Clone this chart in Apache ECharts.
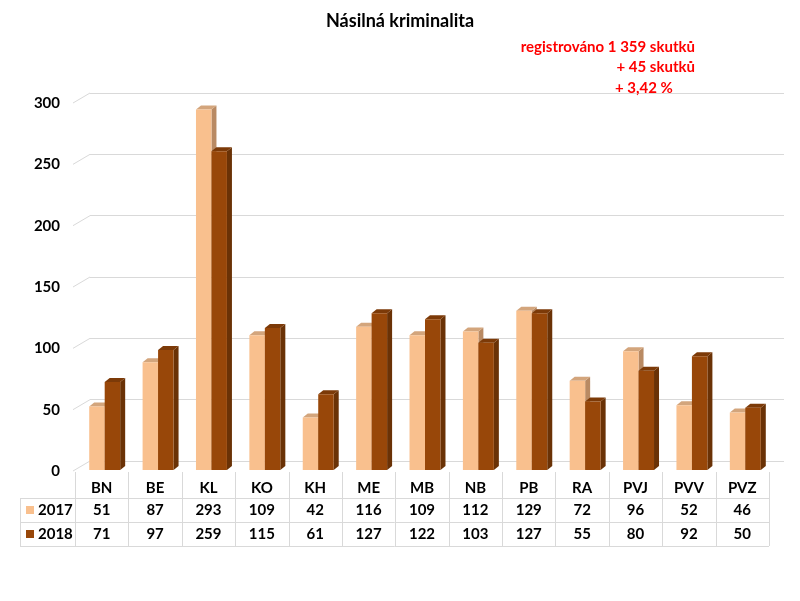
<!DOCTYPE html>
<html>
<head>
<meta charset="utf-8">
<script src="https://cdn.jsdelivr.net/npm/echarts@6/dist/echarts.min.js"></script>
<style>html,body{margin:0;padding:0;background:#fff;}#c{width:800px;height:601px;}</style>
</head>
<body>
<div id="c"></div>
<script>
const categories = ['BN','BE','KL','KO','KH','ME','MB','NB','PB','RA','PVJ','PVV','PVZ'];
const years = ['2017','2018'];
const values2017 = [51,87,293,109,42,116,109,112,129,72,96,52,46];
const values2018 = [71,97,259,115,61,127,122,103,127,55,80,92,50];
const yTicks = [0,50,100,150,200,250,300];
const titleText = 'Násilná kriminalita';
const noteLines = ['registrováno 1 359 skutků','+ 45 skutků','+ 3,42 %'];

const FONT = 'Lato';
const colors = [
  {front:'#F9C08E', side:'#B98A63', top:'#D3A57C'},
  {front:'#984709', side:'#6A3206', top:'#7C3A08'}
];
const D = 5, DT = 4, SHIFT = 3;

function makeRender(si){
  return function(params, api){
    const idx = api.value(0), v = api.value(1);
    const base = api.coord([idx, 0]);
    const top = api.coord([idx, v]);
    const band = api.size([1,0])[0];
    const w = band*0.29;
    const x0 = base[0] + SHIFT + (si===0 ? -w : 0);
    const x1 = x0 + w;
    const yb = base[1] - 1, yt = top[1] - 2;
    const c = colors[si];
    return {type:'group', children:[
      {type:'polygon', shape:{points:[[x1,yt],[x1+D,yt-DT],[x1+D,yb-DT],[x1,yb]]}, style:{fill:c.side}},
      {type:'polygon', shape:{points:[[x0,yt],[x0+D,yt-DT],[x1+D,yt-DT],[x1,yt]]}, style:{fill:c.top}},
      {type:'rect', shape:{x:x0, y:yt, width:w, height:yb-yt}, style:{fill:c.front}}
    ]};
  };
}

const chart = echarts.init(document.getElementById('c'), null, {renderer:'canvas'});
const option = {
  animation:false,
  backgroundColor:'#fff',
  title:{text:titleText, left:'center', top:7, textStyle:{fontFamily:FONT, fontSize:18, fontWeight:'bold', color:'#000'}},
  grid:[
    {left:75, right:31, top:103, bottom:130},
    {left:90, right:16, top:93, bottom:140}
  ],
  xAxis:[
    {type:'category', data:categories, gridIndex:0, axisLine:{show:false}, axisTick:{show:false}, axisLabel:{show:false}},
    {type:'category', data:categories, gridIndex:1, axisLine:{show:false}, axisTick:{show:false}, axisLabel:{show:false}}
  ],
  yAxis:[
    {type:'value', gridIndex:0, min:0, max:300, interval:50, splitLine:{show:false}, axisLine:{show:false}, axisTick:{show:false},
     axisLabel:{margin:15, fontFamily:FONT, fontSize:15, fontWeight:'bold', color:'#000'}},
    {type:'value', gridIndex:1, min:0, max:300, interval:50, splitLine:{show:true, lineStyle:{color:'#D9D9D9', width:1}}, axisLine:{show:false}, axisTick:{show:false}, axisLabel:{show:false}}
  ],
  series:[
    {type:'custom', name:years[0], xAxisIndex:0, yAxisIndex:0, renderItem:makeRender(0), data:values2017.map((v,i)=>[i,v]), z:2},
    {type:'custom', name:years[1], xAxisIndex:0, yAxisIndex:0, renderItem:makeRender(1), data:values2018.map((v,i)=>[i,v]), z:3}
  ]
};
chart.setOption(option);

const g = [];
const lineColor = '#D9D9D9';
yTicks.forEach(t=>{
  const p = chart.convertToPixel({gridIndex:0}, [0, t]);
  const q = chart.convertToPixel({gridIndex:1}, [0, t]);
  g.push({type:'line', shape:{x1:73, y1:p[1], x2:90, y2:q[1]}, style:{stroke:lineColor, lineWidth:1}, z:1});
});
const nf = 'bold 15px '+FONT;
g.push({type:'text', style:{text:noteLines[0], x:695, y:47, align:'right', verticalAlign:'middle', fill:'#FF0000', font:nf}});
g.push({type:'text', style:{text:noteLines[1], x:695, y:67, align:'right', verticalAlign:'middle', fill:'#FF0000', font:nf}});
g.push({type:'text', style:{text:noteLines[2], x:615, y:88, align:'left', verticalAlign:'middle', fill:'#FF0000', font:nf}});

const band = chart.convertToPixel({gridIndex:0},[1,0])[0] - chart.convertToPixel({gridIndex:0},[0,0])[0];
const xStart = chart.convertToPixel({gridIndex:0},[0,0])[0] - band/2;
const xEnd = xStart + band*categories.length;
const rowCat = 488, row1 = 510, row2 = 534;
const hLines = [498, 522, 546];
const tableLeft = 20;
hLines.forEach(y=>g.push({type:'line', shape:{x1:tableLeft, y1:y+0.5, x2:xEnd, y2:y+0.5}, style:{stroke:lineColor, lineWidth:1}}));
g.push({type:'line', shape:{x1:tableLeft+0.5, y1:hLines[0], x2:tableLeft+0.5, y2:hLines[2]}, style:{stroke:lineColor, lineWidth:1}});
for(let i=0;i<=categories.length;i++){
  const x = Math.round(xStart + i*band)+0.5;
  g.push({type:'line', shape:{x1:x, y1:472, x2:x, y2:hLines[2]}, style:{stroke:lineColor, lineWidth:1}});
}
const tf = 'bold 15px '+FONT;
categories.forEach((c,i)=>{
  const cx = xStart + (i+0.5)*band;
  g.push({type:'text', style:{text:c, x:cx, y:rowCat, align:'center', verticalAlign:'middle', fill:'#000', font:tf}});
  g.push({type:'text', style:{text:String(values2017[i]), x:cx, y:row1, align:'center', verticalAlign:'middle', fill:'#000', font:tf}});
  g.push({type:'text', style:{text:String(values2018[i]), x:cx, y:row2, align:'center', verticalAlign:'middle', fill:'#000', font:tf}});
});
[[row1, colors[0].front, years[0]],[row2, colors[1].front, years[1]]].forEach(([y,col,label])=>{
  g.push({type:'rect', shape:{x:26, y:y-4, width:8, height:8}, style:{fill:col}});
  g.push({type:'text', style:{text:label, x:38, y:y, align:'left', verticalAlign:'middle', fill:'#000', font:tf}});
});
chart.setOption({graphic:g});
</script>
</body>
</html>
